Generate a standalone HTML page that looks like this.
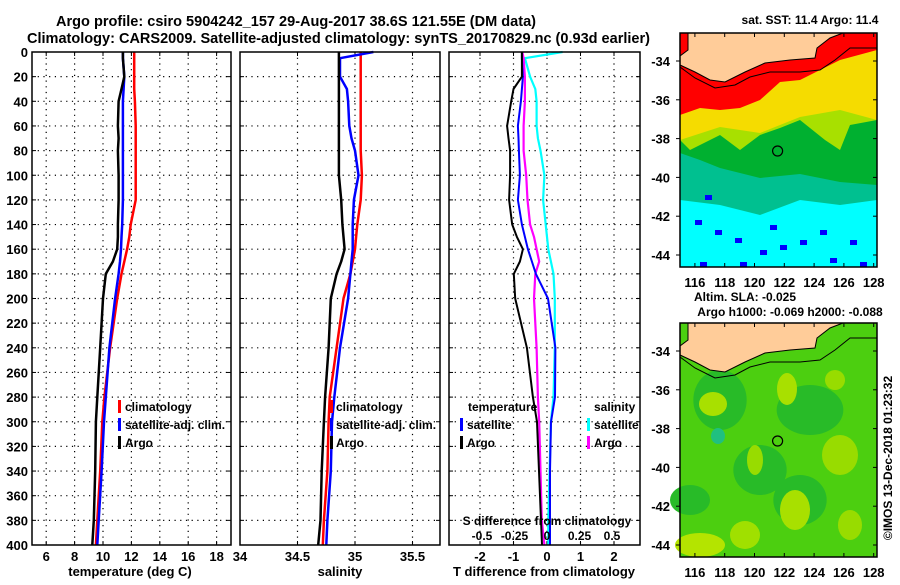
<!DOCTYPE html>
<html><head><meta charset="utf-8"><style>
html,body{margin:0;padding:0;background:#fff;}
svg text{font-family:"Liberation Sans",sans-serif;font-weight:bold;fill:#000;}
</style></head><body>
<svg id="c" width="900" height="580" viewBox="0 0 900 580" xmlns="http://www.w3.org/2000/svg">
<text x="56" y="26" font-size="15" textLength="480" lengthAdjust="spacingAndGlyphs">Argo profile: csiro 5904242_157 29-Aug-2017 38.6S 121.55E (DM data)</text>
<text x="27" y="43" font-size="15" textLength="623" lengthAdjust="spacingAndGlyphs">Climatology: CARS2009. Satellite-adjusted climatology: synTS_20170829.nc (0.93d earlier)</text>
<g id="plots"></g>
<g id="maps"></g>
</svg>
<script>
// depth levels (m)
const depths = [0,5,20,30,40,60,70,80,100,120,140,150,160,170,180,200,240,280,300,340,380,400];
// temperature (deg C)
const tempClim = [12.2,12.2,12.2,12.2,12.25,12.3,12.3,12.3,12.3,12.3,11.95,11.85,11.7,11.5,11.3,11.0,10.5,10.1,9.95,9.8,9.6,9.5];
const tempSat  = [11.4,11.4,11.5,11.45,11.4,11.4,11.4,11.4,11.4,11.4,11.35,11.3,11.27,11.2,11.1,10.85,10.45,10.2,10.07,9.9,9.7,9.6];
const tempArgo = [11.4,11.4,11.5,11.3,11.1,11.05,11.1,11.05,11.1,11.1,11.05,11.05,11.0,10.7,10.2,10.0,9.8,9.6,9.5,9.45,9.35,9.25];
// salinity
const salClim = [35.05,35.05,35.05,35.05,35.05,35.05,35.05,35.05,35.06,35.05,35.02,35.01,35.0,34.98,34.96,34.9,34.84,34.78,34.77,34.76,34.73,34.72];
const salSat  = [35.16,34.87,34.87,34.93,34.94,34.95,34.97,35.0,35.03,34.99,34.98,34.98,34.98,34.97,34.96,34.94,34.87,34.82,34.8,34.79,34.76,34.75];
const salArgo = [34.86,34.86,34.86,34.86,34.86,34.86,34.86,34.86,34.86,34.88,34.89,34.9,34.91,34.88,34.84,34.79,34.77,34.74,34.73,34.71,34.7,34.68];
// differences from climatology
const dTSat  = [-0.75,-0.75,-0.72,-0.75,-0.78,-0.87,-0.85,-0.84,-0.81,-0.87,-0.75,-0.66,-0.57,-0.45,-0.33,0.03,0.25,0.24,0.12,0.09,0.09,0.09];
const dTArgo = [-0.75,-0.75,-0.75,-1.0,-1.07,-1.19,-1.15,-1.1,-1.1,-1.13,-1.04,-0.9,-0.72,-0.81,-0.99,-0.95,-0.6,-0.42,-0.3,-0.24,-0.18,-0.15];
const dSSat  = [0.12,-0.17,-0.13,-0.09,-0.08,-0.08,-0.07,-0.05,-0.02,-0.03,-0.01,0.0,0.01,0.03,0.05,0.06,0.06,0.05,0.03,0.02,0.01,0.01];
const dSArgo = [-0.19,-0.18,-0.17,-0.17,-0.17,-0.18,-0.18,-0.18,-0.16,-0.15,-0.13,-0.1,-0.08,-0.06,-0.09,-0.1,-0.08,-0.07,-0.06,-0.05,-0.04,-0.02];
// tick labels
const depthTicks = [0,20,40,60,80,100,120,140,160,180,200,220,240,260,280,300,320,340,360,380,400];
const tempTicks = [6,8,10,12,14,16,18];
const salTicks = [34,34.5,35,35.5];
const salGrid = [34.5,35,35.5];
const dTTicks = [-2,-1,0,1,2];
const dSTicks = [-0.5,-0.25,0,0.25,0.5];
const latTicks = [-34,-36,-38,-40,-42,-44];
const lonTicks = [116,118,120,122,124,126,128];

const NS='http://www.w3.org/2000/svg';
function mk(parent,tag,attrs,txt){const e=document.createElementNS(NS,tag);for(const k in attrs)e.setAttribute(k,attrs[k]);if(txt!==undefined)e.textContent=txt;parent.appendChild(e);return e;}
const P=document.getElementById('plots');
const y=d=>52+d*1.2325;
const xT=t=>32+(t-5)*14.2;
const xS=s=>240+(s-34)*115;
const xD=d=>547+d*33.5;
const xDS=s=>547+s*130;

function panel(x0,x1,name){
  const g=mk(P,'g',{});
  
  
  depthTicks.forEach(d=>{ if(d>0&&d<400){const l=mk(g,'line',{x1:x0,x2:x1,y1:y(d),y2:y(d),stroke:'#000','stroke-width':1.2,'stroke-dasharray':'1.2 4.5'});
    
    mk(g,'line',{x1:x0,x2:x0+4,y1:y(d),y2:y(d),stroke:'#000'});mk(g,'line',{x1:x1-4,x2:x1,y1:y(d),y2:y(d),stroke:'#000'});}});
  return g;
}
function vgrid(g,x){mk(g,'line',{x1:x,x2:x,y1:52,y2:545,stroke:'#000','stroke-width':1.2,'stroke-dasharray':'1.2 4.5'});mk(g,'line',{x1:x,x2:x,y1:52,y2:56,stroke:'#000'});mk(g,'line',{x1:x,x2:x,y1:541,y2:545,stroke:'#000'});}
function frame(g,x0,x1){const r=mk(g,'rect',{x:x0,y:52,width:x1-x0,height:493,fill:'none',stroke:'#000','stroke-width':1.5});}
function line(g,xs,fx,color,w,name){
  const pts=depths.map((d,i)=>fx(xs[i]).toFixed(1)+','+y(d).toFixed(1)).join(' ');
  const l=mk(g,'polyline',{points:pts,fill:'none',stroke:color,'stroke-width':w,'stroke-linejoin':'round'});
  
  
}
function txt(g,x,yy,s,name,anchor,size){const t=mk(g,'text',{x:x,y:yy,'font-size':size||13,'text-anchor':anchor||'start'},s);return t;}
function legMark(g,x,yy,c){mk(g,'rect',{x:x,y:yy-11,width:3,height:13,fill:c});}

// y tick labels
depthTicks.forEach(d=>txt(P,28,y(d)+5,String(d),'y-tick-label','end',13));

// panel 1 temperature
let g1=panel(32,231,'temperature-panel');
tempTicks.forEach(t=>{vgrid(g1,xT(t));txt(g1,xT(t),561,String(t),'x-tick-label','middle',13);});
line(g1,tempClim,xT,'#ff0000',2.5,'temp-climatology-line');
line(g1,tempSat,xT,'#0000ff',2.5,'temp-satellite-line');
line(g1,tempArgo,xT,'#000000',2.5,'temp-argo-line');
frame(g1,32,231);
txt(g1,130,576,'temperature (deg C)','x-axis-title','middle',13);
legMark(g1,118,411,'#f00');txt(g1,125,411,'climatology','legend-entry','start',12);
legMark(g1,118,429,'#00f');txt(g1,125,429,'satellite-adj. clim.','legend-entry','start',12);
legMark(g1,118,447,'#000');txt(g1,125,447,'Argo','legend-entry','start',12);

// panel 2 salinity
let g2=panel(240,440,'salinity-panel');
salGrid.forEach(s=>vgrid(g2,xS(s)));
salTicks.forEach(s=>txt(g2,xS(s),561,String(s),'x-tick-label','middle',13));
line(g2,salClim,xS,'#ff0000',2.5,'sal-climatology-line');
line(g2,salSat,xS,'#0000ff',2.5,'sal-satellite-line');
line(g2,salArgo,xS,'#000000',2.5,'sal-argo-line');
frame(g2,240,440);
txt(g2,340,576,'salinity','x-axis-title','middle',13);
legMark(g2,330,411,'#f00');txt(g2,336,411,'climatology','legend-entry','start',12);
legMark(g2,330,429,'#00f');txt(g2,336,429,'satellite-adj. clim.','legend-entry','start',12);
legMark(g2,330,447,'#000');txt(g2,336,447,'Argo','legend-entry','start',12);

// panel 3 differences
let g3=panel(449,640,'difference-panel');
dTTicks.forEach(t=>{vgrid(g3,xD(t));txt(g3,xD(t),561,String(t),'x-tick-label','middle',13);});
line(g3,dSSat,xDS,'#00ffff',2.2,'sal-diff-satellite-line');
line(g3,dSArgo,xDS,'#ff00ff',2.2,'sal-diff-argo-line');
line(g3,dTSat,xD,'#0000ff',2,'temp-diff-satellite-line');
line(g3,dTArgo,xD,'#000000',2,'temp-diff-argo-line');
frame(g3,449,640);
txt(g3,544,576,'T difference from climatology','x-axis-title','middle',13);
txt(g3,468,411,'temperature','legend-title','start',12);
legMark(g3,460,429,'#00f');txt(g3,467,429,'satellite','legend-entry','start',12);
legMark(g3,460,447,'#000');txt(g3,467,447,'Argo','legend-entry','start',12);
txt(g3,594,411,'salinity','legend-title','start',12);
legMark(g3,587,429,'#0ff');txt(g3,594,429,'satellite','legend-entry','start',12);
legMark(g3,587,447,'#f0f');txt(g3,594,447,'Argo','legend-entry','start',12);
txt(g3,547,525,'S difference from climatology','secondary-axis-title','middle',12);
dSTicks.forEach(s=>txt(g3,xDS(s),540,String(s),'secondary-tick-label','middle',12));

// maps
const M=document.getElementById('maps');
const mx=lon=>680+(lon-115)*14.9;
function map(y0,top){
  const g=mk(M,'g',{});
  
  
  const dy=y0-33;
  const P2=(arr)=>arr.map(p=>p[0]+','+(p[1]+dy)).join(' ');
  if(top){
    mk(g,'rect',{x:680,y:y0,width:197,height:234,fill:'#00ffff'});
    mk(g,'polygon',{points:P2([[680,33],[877,33],[877,200],[840,205],[800,200],[760,215],[720,205],[680,200]]),fill:'#00c090'});
    mk(g,'polygon',{points:P2([[680,33],[877,33],[877,185],[840,182],[800,174],[760,178],[720,168],[700,160],[680,153]]),fill:'#00b030'});
    mk(g,'polygon',{points:P2([[680,33],[877,33],[877,120],[850,125],[840,150],[825,140],[800,120],[780,128],[760,135],[740,150],[720,135],[690,150],[680,140]]),fill:'#a8e000'});
    mk(g,'polygon',{points:P2([[680,33],[877,33],[877,120],[840,110],[800,117],[760,133],[720,127],[680,140]]),fill:'#f5dc00'});
    mk(g,'polygon',{points:P2([[680,33],[877,33],[877,50],[840,60],[800,80],[780,82],[760,100],[740,108],[720,110],[700,108],[680,115]]),fill:'#ff0000'});
    [[705,195],[715,230],[735,238],[760,250],[780,245],[800,240],[830,258],[850,240],[860,262],[700,262],[740,262],[820,230],[695,220],[770,225]].forEach(p=>mk(g,'rect',{x:p[0],y:p[1],width:7,height:5,fill:'#0000ff'}));
  } else {
    mk(g,'rect',{x:680,y:y0,width:197,height:234,fill:'#4ccf10'});
    [[720,400,40,30],[810,410,50,25],[760,470,40,25],[690,500,30,15],[800,500,40,25]].forEach(r=>mk(g,'ellipse',{cx:r[0],cy:r[1],rx:r[2]/1.5,ry:r[3],fill:'#28bb28'}));
    [[713,404,14,12,'#a8e000'],[787,389,10,16,'#a8e000'],[835,380,10,10,'#98dc00'],[840,455,18,20,'#98dc00'],[795,510,15,20,'#a8e000'],[700,545,25,12,'#b4e400'],[745,535,15,14,'#a0e000'],[850,525,12,15,'#98dc00'],[755,460,8,15,'#98dc00']].forEach(r=>mk(g,'ellipse',{cx:r[0],cy:r[1],rx:r[2],ry:r[3],fill:r[4]}));
    mk(g,'ellipse',{cx:718,cy:436,rx:7,ry:8,fill:'#20c080'});
  }
  mk(g,'polygon',{points:P2([[688,33],[843,33],[830,38],[817,48],[815,58],[790,60],[765,63],[745,72],[725,82],[710,80],[695,72],[680,65],[680,56],[688,50]]),fill:'#ffcc99',stroke:'#000','stroke-width':1});
  mk(g,'polyline',{points:P2([[680,67],[695,78],[715,88],[735,85],[750,77],[770,72],[800,72],[820,70],[835,60],[850,48],[877,48]]),fill:'none',stroke:'#000','stroke-width':1});
  mk(g,'circle',{cx:mx(121.55),cy:151+dy,r:5,fill:'none',stroke:'#000','stroke-width':1.2});
  const r=mk(g,'rect',{x:680,y:y0,width:197,height:234,fill:'none',stroke:'#000','stroke-width':1.5});
  
  lonTicks.forEach(l=>{mk(g,'line',{x1:mx(l),x2:mx(l),y1:y0+234,y2:y0+230,stroke:'#000'});mk(g,'line',{x1:mx(l),x2:mx(l),y1:y0,y2:y0+4,stroke:'#000'});txt(g,mx(l),y0+254,String(l),'map-lon-label','middle',13);});
  latTicks.forEach(la=>{const yy=61+(-34-la)*19.4+dy;mk(g,'line',{x1:676,x2:680,y1:yy,y2:yy,stroke:'#000'});mk(g,'line',{x1:873,x2:877,y1:yy,y2:yy,stroke:'#000'});txt(g,670,yy+5,String(la),'map-lat-label','end',13);});
}
map(33,true);
map(323,false);
txt(M,810,24,'sat. SST: 11.4 Argo: 11.4','sst-map-title','middle',12);
txt(M,745,301,'Altim. SLA: -0.025','sla-map-title','middle',12);
txt(M,790,316,'Argo h1000: -0.069 h2000: -0.088','sla-map-subtitle','middle',12);
const cp=txt(M,0,0,'©IMOS 13-Dec-2018 01:23:32','copyright-stamp','middle',12);
cp.setAttribute('transform','translate(892,458) rotate(-90)');
cp.setAttribute('font-weight','normal');
</script>
</body></html>
